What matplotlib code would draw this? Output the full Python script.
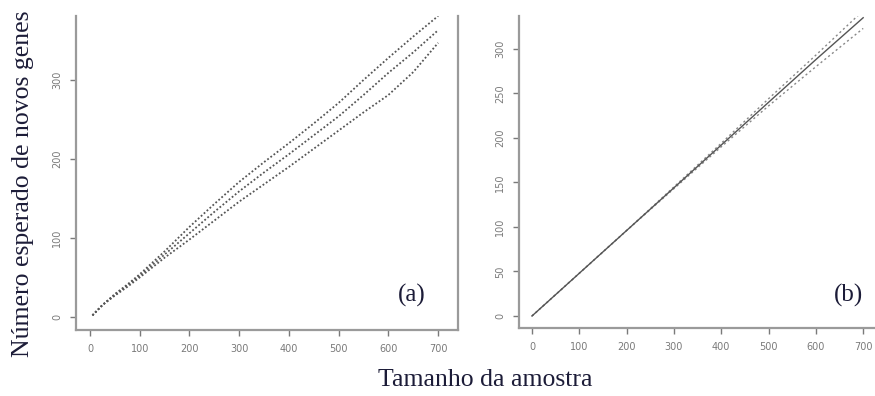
import matplotlib
matplotlib.use("Agg")
import matplotlib.pyplot as plt

# (a) curva de rarefacao com intervalo
sizes_a = [5, 25, 50, 75, 100, 150, 200, 250, 300, 350, 400, 450, 500, 550, 600, 650, 700]
mid_a = [2, 15, 28, 40, 52, 79, 106, 133, 159, 183, 206, 230, 254, 281, 309, 335, 363]
upper_a = [2, 15, 29, 41, 54, 83, 114, 143, 171, 196, 220, 245, 271, 300, 328, 355, 381]
lower_a = [2, 15, 27, 38, 50, 75, 98, 122, 146, 168, 190, 213, 236, 259, 281, 310, 347]

# (b) extrapolacao
sizes_b = [0, 100, 200, 300, 400, 500, 600, 700]
mid_b = [0, 48, 96, 144, 192, 240, 288, 335]
upper_b = [0, 48, 96, 145, 194, 244, 293, 343]
lower_b = [0, 48, 96, 143, 190, 236, 280, 323]

xticks = [0, 100, 200, 300, 400, 500, 600, 700]
yticks_a = [0, 100, 200, 300]
yticks_b = [0, 50, 100, 150, 200, 250, 300]

spine_col = "#9a9a9a"
tick_col = "#7a7a7a"
text_col = "#1c1c38"

fig = plt.figure(figsize=(8.75, 3.96), dpi=100)
ax1 = fig.add_axes([0.0869, 0.1667, 0.4366, 0.793])
ax2 = fig.add_axes([0.5931, 0.1717, 0.4069, 0.788])

def style(ax, right=False):
    ax.spines["top"].set_visible(False)
    ax.spines["right"].set_visible(right)
    for s in ["left", "bottom", "right"]:
        ax.spines[s].set_color(spine_col)
        ax.spines[s].set_linewidth(1.6)
    ax.tick_params(colors=tick_col, labelcolor=tick_col, labelsize=7, length=4, width=1.0, direction="out", pad=6)
    ax.tick_params(axis="y", labelrotation=90)

ax1.plot(sizes_a, upper_a, color="#555555", lw=1.3, ls=(0, (1, 1.2)))
ax1.plot(sizes_a, mid_a, color="#555555", lw=1.3, ls=(0, (1, 1.2)))
ax1.plot(sizes_a, lower_a, color="#555555", lw=1.3, ls=(0, (1, 1.2)))
ax1.set_xlim(-28, 740)
ax1.set_ylim(-16.5, 381)
ax1.set_xticks(xticks)
ax1.set_yticks(yticks_a)
style(ax1, right=True)
ax1.text(0.88, 0.11, "(a)", transform=ax1.transAxes, fontsize=18, family="Liberation Serif", color=text_col, ha="center", va="center")

ax2.plot(sizes_b, upper_b, color="#888888", lw=1.0, ls=(0, (1.5, 2)))
ax2.plot(sizes_b, lower_b, color="#888888", lw=1.0, ls=(0, (1.5, 2)))
ax2.plot(sizes_b, mid_b, color="#555555", lw=1.0)
ax2.set_xlim(-27.5, 725)
ax2.set_ylim(-13.5, 337)
ax2.set_xticks(xticks)
ax2.set_yticks(yticks_b)
style(ax2)
ax2.text(0.925, 0.105, "(b)", transform=ax2.transAxes, fontsize=18, family="Liberation Serif", color=text_col, ha="center", va="center")

for ax in (ax1, ax2):
    for lab in ax.get_yticklabels():
        lab.set_va("center")

fig.text(0.026, 0.535, "Número esperado de novos genes", rotation=90, fontsize=18.5,
         family="Liberation Serif", color=text_col, ha="center", va="center")
fig.text(0.555, 0.04, "Tamanho da amostra", fontsize=18.5,
         family="Liberation Serif", color=text_col, ha="center", va="center")

fig.savefig("out.png", dpi=100)
